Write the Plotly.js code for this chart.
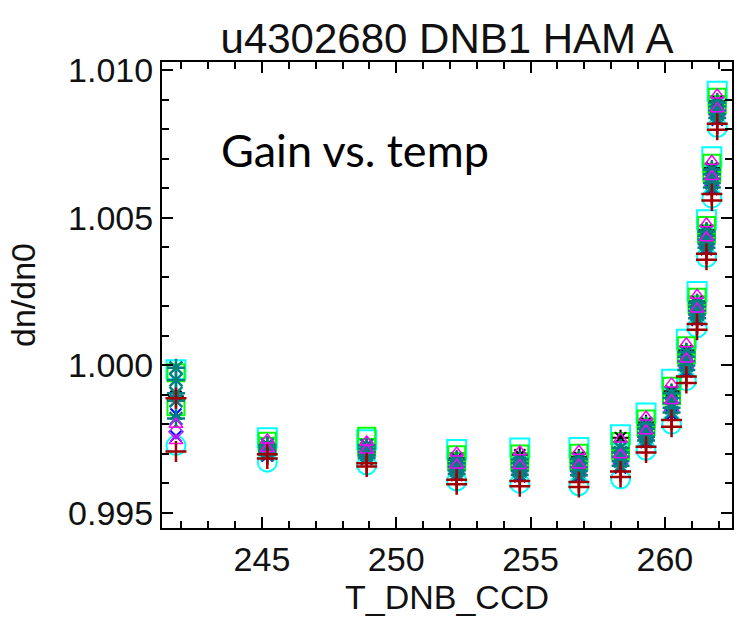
<!DOCTYPE html>
<html><head><meta charset="utf-8">
<script src="https://cdn.plot.ly/plotly-3.0.1.min.js"></script>
<style>html,body{margin:0;padding:0;background:#fff}</style>
</head><body><div id="chart" style="width:744px;height:621px"></div>
<script>
// Temperatures of the measurement clusters (T_DNB_CCD)
const temps = [241.8, 245.2, 248.9, 252.25, 254.6, 256.8, 258.35, 259.3, 260.25, 260.8, 261.2, 261.55, 261.75, 261.95];

// dn/dn0 values per series
const sqCyan      = [0.99985, 0.99755, 0.99748, 0.99715, 0.99720, 0.99722, 0.99765, 0.99838, 0.99953, 1.00088, 1.00250, 1.00493, 1.00706, 1.00928];
const circCyan    = [0.99728, 0.99672, 0.99662, 0.99608, 0.99600, 0.99592, 0.99615, 0.99712, 0.99800, 0.99948, 1.00127, 1.00365, 1.00566, 1.00805];
const sqGreen     = [0.99975, 0.99743, 0.99760, 0.99697, 0.99700, 0.99702, 0.99742, 0.99818, 0.99929, 1.00066, 1.00230, 1.00473, 1.00684, 1.00908];
const sqGreenB    = [0.99860, 0.99726, 0.99722, 0.99674, 0.99674, 0.99675, 0.99712, 0.99791, 0.99897, 1.00036, 1.00205, 1.00445, 1.00654, 1.00883];
const triMagenta  = [0.99745, 0.99747, 0.99740, 0.99703, 0.99707, 0.99709, 0.99750, 0.99825, 0.99937, 1.00073, 1.00237, 1.00479, 1.00691, 1.00915];
const triMagentaB = [0.99800, 0.99718, 0.99713, 0.99662, 0.99661, 0.99662, 0.99697, 0.99778, 0.99881, 1.00021, 1.00191, 1.00432, 1.00639, 1.00869];
const xBlue       = [0.99835, 0.99709, 0.99702, 0.99650, 0.99648, 0.99648, 0.99682, 0.99765, 0.99864, 1.00007, 1.00178, 1.00418, 1.00625, 1.00856];
const xBlueB      = [0.99760, 0.99693, 0.99681, 0.99627, 0.99622, 0.99621, 0.99652, 0.99738, 0.99832, 0.99977, 1.00152, 1.00391, 1.00595, 1.00830];
const diaPurple   = [0.99775, 0.99701, 0.99692, 0.99638, 0.99635, 0.99635, 0.99667, 0.99751, 0.99848, 0.99992, 1.00166, 1.00404, 1.00610, 1.00844];
const astTealA    = [0.99992, 0.99730, 0.99728, 0.99680, 0.99681, 0.99682, 0.99720, 0.99798, 0.99905, 1.00044, 1.00211, 1.00452, 1.00662, 1.00889];
const astTealB    = [0.99950, 0.99722, 0.99718, 0.99668, 0.99668, 0.99668, 0.99705, 0.99785, 0.99889, 1.00029, 1.00198, 1.00439, 1.00647, 1.00876];
const astTealC    = [0.99905, 0.99713, 0.99707, 0.99656, 0.99655, 0.99655, 0.99690, 0.99771, 0.99872, 1.00014, 1.00185, 1.00425, 1.00632, 1.00863];
const astTealD    = [0.99880, 0.99705, 0.99697, 0.99644, 0.99642, 0.99642, 0.99675, 0.99758, 0.99856, 0.99999, 1.00172, 1.00411, 1.00617, 1.00850];
const astTealE    = [0.99820, 0.99697, 0.99686, 0.99632, 0.99629, 0.99628, 0.99660, 0.99745, 0.99840, 0.99984, 1.00159, 1.00398, 1.00602, 1.00837];
const astBlack    = [0.99895, 0.99732, 0.99730, 0.99686, 0.99697, 0.99690, 0.99755, 0.99806, 0.99912, 1.00050, 1.00216, 1.00458, 1.00668, 1.00895];
const plusRedB    = [0.99888, 0.99699, 0.99668, 0.99612, 0.99608, 0.99605, 0.99640, 0.99724, 0.99815, 0.99962, 1.00140, 1.00378, 1.00580, 1.00818];
const plusRed     = [0.99708, 0.99684, 0.99657, 0.99597, 0.99590, 0.99588, 0.99622, 0.99705, 0.99792, 0.99940, 1.00120, 1.00357, 1.00558, 1.00798];

const xTickVals = [245, 250, 255, 260];
const yTickVals = [0.995, 1.000, 1.005, 1.010];

function tr(y, symbol, color, size, lw) {
  return {x: temps, y: y, type: 'scatter', mode: 'markers', hoverinfo: 'x+y', cliponaxis: true,
    marker: {symbol: symbol, size: size, color: color, line: {color: color, width: lw}}};
}

const data = [
  tr(sqCyan, 'square-open', '#00FFFF', 19, 2),
  tr(circCyan, 'circle-open', '#00FFFF', 19, 2),
  tr(sqGreen, 'square-open', '#00FF00', 17, 2),
  tr(sqGreenB, 'square-open', '#00FF00', 17, 2),
  tr(astBlack, 'asterisk-open', '#000000', 13, 2),
  tr(xBlue, 'x-thin-open', '#0000FF', 11, 2),
  tr(xBlueB, 'x-thin-open', '#0000FF', 11, 2),
  tr(diaPurple, 'diamond-open', '#9933FF', 11, 1.5),
  tr(astTealA, 'asterisk-open', '#008080', 15, 2.5),
  tr(astTealB, 'asterisk-open', '#008080', 15, 2.5),
  tr(astTealC, 'asterisk-open', '#008080', 15, 2.5),
  tr(astTealD, 'asterisk-open', '#008080', 15, 2.5),
  tr(astTealE, 'asterisk-open', '#008080', 15, 2.5),
  tr(triMagenta, 'triangle-up-open', '#FF00FF', 12, 1.5),
  tr(triMagentaB, 'triangle-up-open', '#FF00FF', 12, 1.5),
  tr(plusRedB, 'cross-thin-open', '#A00000', 15, 2.5),
  tr(plusRed, 'cross-thin-open', '#A00000', 15, 2.5)
];

const axisCommon = {
  showline: true, linewidth: 2, linecolor: '#000', mirror: 'ticks',
  ticks: 'inside', ticklen: 11, tickwidth: 2, tickcolor: '#000',
  showgrid: false, zeroline: false,
  tickfont: {size: 34, color: '#111'}
};

const layout = {
  width: 744, height: 621,
  margin: {l: 162, r: 12, t: 62, b: 93, pad: 0},
  paper_bgcolor: '#fff', plot_bgcolor: '#fff',
  showlegend: false,
  font: {family: '"Liberation Sans", Arial, sans-serif', color: '#111', size: 34},
  title: {text: 'u4302680 DNB1 HAM A', font: {size: 42, color: '#111'},
          xref: 'paper', x: 0.5, xanchor: 'center', yref: 'container', y: 0.939, yanchor: 'middle'},
  xaxis: Object.assign({}, axisCommon, {
    range: [241.28, 262.5],
    tickmode: 'array', tickvals: xTickVals, ticktext: xTickVals.map(String),
    minor: {dtick: 1, tick0: 241, ticks: 'inside', ticklen: 7, tickwidth: 2, tickcolor: '#000'},
    title: {text: 'T_DNB_CCD', font: {size: 34, color: '#111'}, standoff: 4}
  }),
  yaxis: Object.assign({}, axisCommon, {
    range: [0.99449, 1.01027],
    tickmode: 'array', tickvals: yTickVals, ticktext: yTickVals.map(v => v.toFixed(3)),
    minor: {dtick: 0.001, tick0: 0.995, ticks: 'inside', ticklen: 7, tickwidth: 2, tickcolor: '#000'},
    title: {text: 'dn/dn0', font: {size: 34, color: '#111'}, standoff: 22}
  }),
  annotations: [{
    text: 'Gain vs. temp', xref: 'paper', yref: 'paper', x: 0.339, y: 0.811,
    xanchor: 'center', yanchor: 'middle', showarrow: false,
    font: {family: 'Lato, "Open Sans", sans-serif', size: 45, color: '#000'}
  }]
};

Plotly.newPlot('chart', data, layout, {displayModeBar: false, staticPlot: true});
</script>
</body></html>
